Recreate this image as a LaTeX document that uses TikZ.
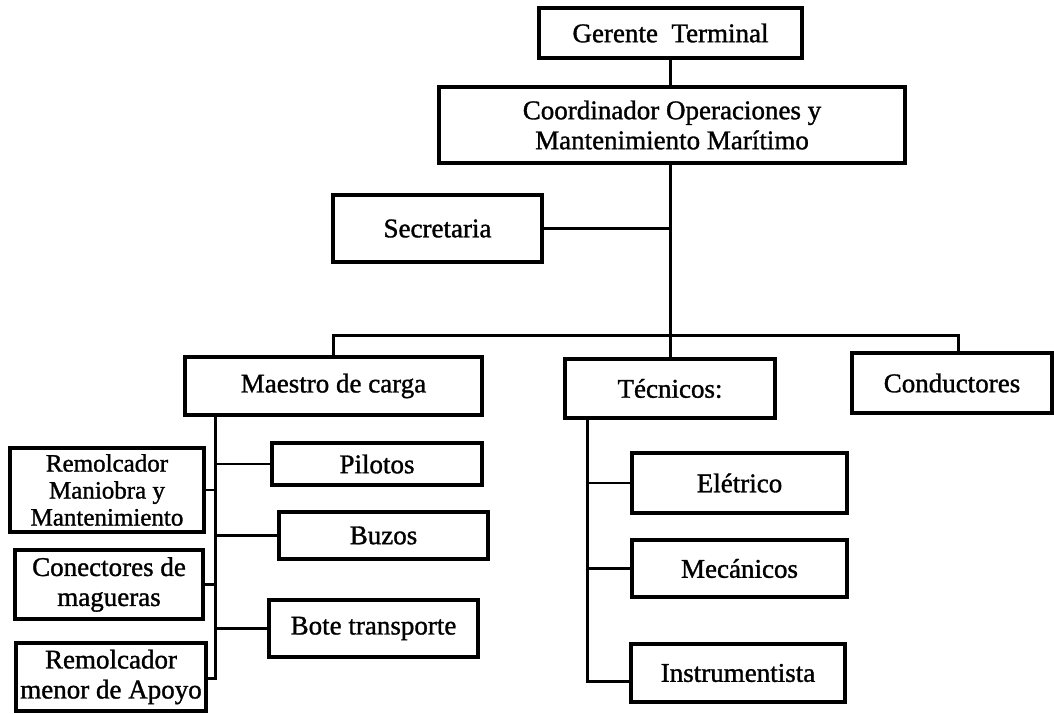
\documentclass[tikz,border=0pt]{standalone}
\usepackage{fontspec}
\setmainfont{Liberation Serif}[FakeBold=1.2]
\begin{document}
\begin{tikzpicture}[x=1pt,y=-1pt,
  box/.style={draw, line width=3.5pt, inner sep=0pt, align=center,
    font=\fontsize{27}{30}\selectfont},
  link/.style={line width=3pt},
  thin link/.style={line width=2.2pt}]
\useasboundingbox (0,0) rectangle (1054,713);
\fill[white] (0,0) rectangle (1054,713);
% nodes
\node[box, minimum width=263pt, minimum height=50pt] (ger) at (670.5,33) {Gerente\ \ Terminal};
\node[box, minimum width=466pt, minimum height=76pt] (coo) at (672,125) {Coordinador Operaciones y\\Mantenimiento Marítimo};
\node[box, minimum width=209pt, minimum height=67pt] (sec) at (437.5,228.5) {Secretaria};
\node[box, minimum width=297pt, minimum height=58pt] (mae) at (333.5,386) {Maestro de carga};
\node[box, minimum width=210pt, minimum height=59pt] (tec) at (670,388.5) {Técnicos:};
\node[box, minimum width=200pt, minimum height=60pt] (con) at (952,383) {Conductores};
\node[box, minimum width=210pt, minimum height=42pt] (pil) at (377,464) {Pilotos};
\node[box, minimum width=209pt, minimum height=47pt] (buz) at (383.5,535.5) {Buzos};
\node[box, minimum width=209pt, minimum height=57pt] (bot) at (373.5,628.5) {Bote transporte};
\node[box, minimum width=194pt, minimum height=84pt, font=\fontsize{25}{27}\selectfont] (rma) at (107,490) {Remolcador\\Maniobra y\\Mantenimiento};
\node[box, minimum width=188pt, minimum height=69pt] (cnm) at (109,584.5) {Conectores de\\magueras};
\node[box, minimum width=190pt, minimum height=68pt] (rme) at (111,677) {Remolcador\\menor de Apoyo};
\node[box, minimum width=215pt, minimum height=60pt] (ele) at (739.5,483) {Elétrico};
\node[box, minimum width=215pt, minimum height=57pt] (mec) at (739.5,568.5) {Mecánicos};
\node[box, minimum width=214pt, minimum height=58pt] (ins) at (738,673) {Instrumentista};
% coordinates
\coordinate (barL) at (333.5,335);
\coordinate (barR) at (958,335);
\coordinate (mtop) at (215,415);
\coordinate (mbot) at (215,678);
\coordinate (ttop) at (587,418);
\coordinate (tbot) at (587,681);
% connectors
\draw[link] (ger.south) -- (ger.south |- coo.north);
\draw[link] (tec.north |- coo.south) -- (tec.north);
\draw[link] (sec.east) -- (sec.east -| tec.north);
\draw[link] (mae.north) -- (barL) -- (barR) -- (barR |- con.north);
\draw[link] (mtop) -- (mbot) -- (mbot -| rme.east);
\draw[thin link] (pil.west) -- (pil.west -| mtop);
\draw[thin link] (buz.west) -- (buz.west -| mtop);
\draw[thin link] (bot.west) -- (bot.west -| mtop);
\draw[thin link] (rma.east) -- (rma.east -| mtop);
\draw[thin link] (cnm.east) -- (cnm.east -| mtop);
\draw[link] (ttop) -- (tbot) -- (tbot -| ins.west);
\draw[thin link] (ele.west) -- (ele.west -| ttop);
\draw[thin link] (mec.west) -- (mec.west -| ttop);
\end{tikzpicture}
\end{document}
